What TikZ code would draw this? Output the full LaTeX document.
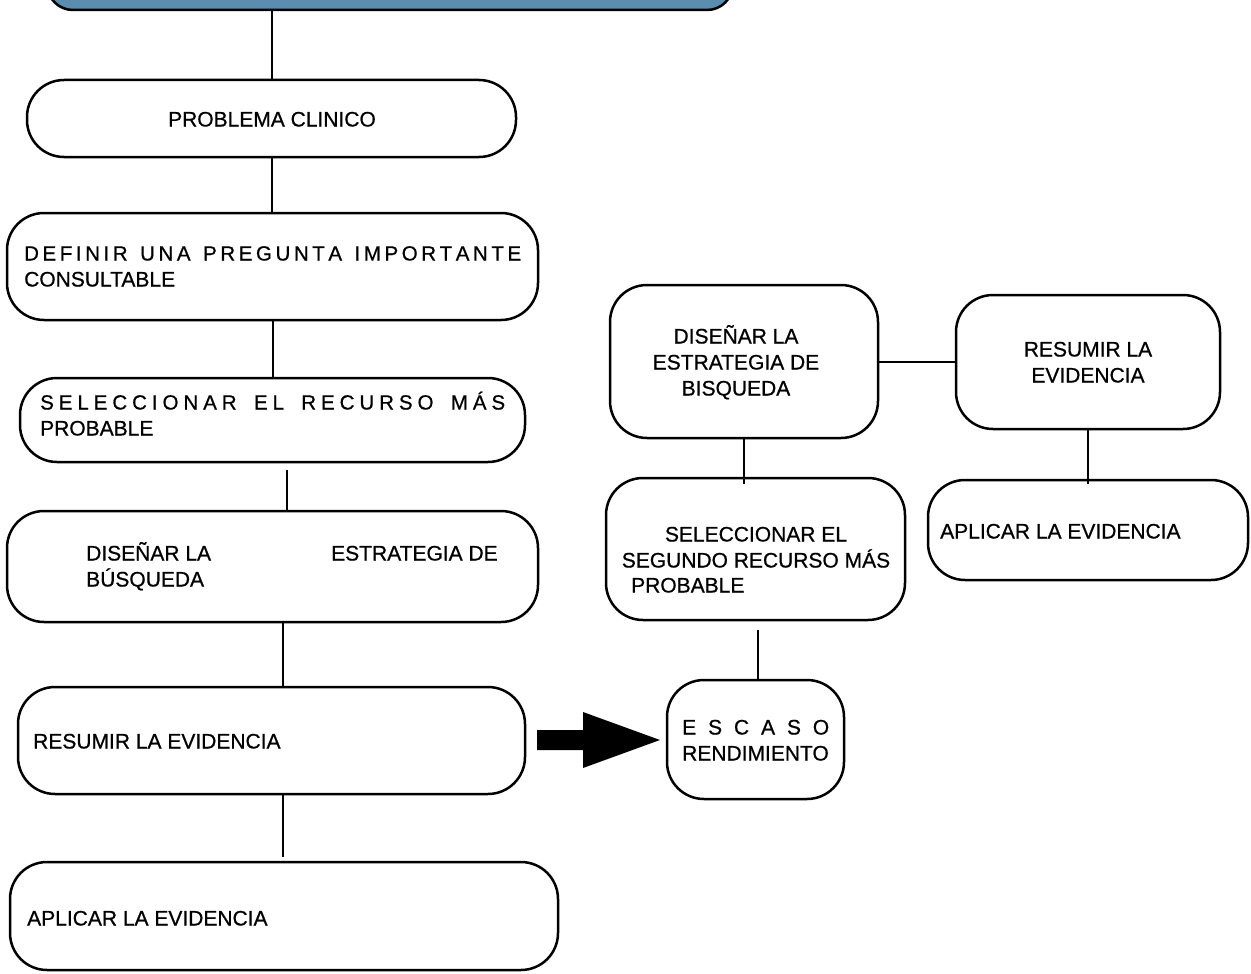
\documentclass[tikz,border=0pt]{standalone}
\usepackage{fontspec}
\setmainfont{Liberation Sans}
\newfontfamily\medfont{Liberation Sans}[FakeBold=0.7]
\definecolor{topblue}{RGB}{90,141,176}
\makeatletter
\def\ls@end{\ls@end}
\def\ls@loop#1{\ifx#1\ls@end\else\ifx#1|\hskip 0pt plus 2.5fil\relax\else#1\hskip 0pt plus 1fil\relax\fi\expandafter\ls@loop\fi}
\newcommand\spreadline[2]{\makebox[#1][s]{\ls@loop#2\ls@end\unskip}}
\makeatother
\newcommand\fs{\medfont\fontsize{21}{26}\selectfont}
\newcommand\fsl{\fontsize{20.5}{26}\selectfont}
\tikzset{
  box/.style={draw, line width=2.5pt, rounded corners=37pt, inner sep=0pt},
  lbl/.style={inner sep=0pt, font=\fs},
  conn/.style={line width=2pt}
}
\begin{document}
\begin{tikzpicture}[x=1pt,y=-1pt]
\clip (0,0) rectangle (1251,974);
\fill[white] (0,0) rectangle (1251,974);
% boxes
\node[box, fill=topblue, rounded corners=26pt, minimum width=686pt, minimum height=70pt] (top) at (390,-25) {};
\node[box, minimum width=489pt, minimum height=77pt] (b1) at (271.5,118.5) {};
\node[box, minimum width=531pt, minimum height=107pt] (b2) at (272.5,266.5) {};
\node[box, minimum width=505pt, minimum height=84pt] (b3) at (272.5,420) {};
\node[box, minimum width=531pt, minimum height=111pt] (b4) at (272.5,566.5) {};
\node[box, minimum width=507pt, minimum height=107pt] (b5) at (271.5,740.5) {};
\node[box, minimum width=548pt, minimum height=108pt] (b6) at (284,916) {};
\node[box, minimum width=268pt, minimum height=153pt] (r1) at (744,361.5) {};
\node[box, minimum width=264pt, minimum height=134pt] (r2) at (1088,362) {};
\node[box, minimum width=299pt, minimum height=142pt] (r3) at (755.5,549) {};
\node[box, minimum width=320pt, minimum height=100pt] (r4) at (1088,530) {};
\node[box, minimum width=177pt, minimum height=119pt] (r5) at (755.5,739.5) {};
% texts (multi-line nodes: base = last line)
\node[lbl, anchor=base] (t1) at (272,126.5) {PROBLEMA CLINICO};
\node[lbl, anchor=base west, align=left] (t2) at (24,286.5) {{\fsl\spreadline{497pt}{DEFINIR|UNA|PREGUNTA|IMPORTANTE}}\\CONSULTABLE};
\node[lbl, anchor=base west, align=left] (t3) at (40,435.5) {{\fsl\spreadline{465pt}{SELECCIONAR|EL|RECURSO|MÁS}}\\PROBABLE};
\node[lbl, anchor=base west, align=left] (t4a) at (86,586.5) {DISEÑAR LA\\BÚSQUEDA};
\node[lbl, anchor=base west] (t4b) at (331,560.5) {ESTRATEGIA DE};
\node[lbl, anchor=base west] (t5) at (33,748.5) {RESUMIR LA EVIDENCIA};
\node[lbl, anchor=base west] (t6) at (27,925.5) {APLICAR LA EVIDENCIA};
\node[lbl, anchor=base, align=center] (tr1) at (736,395.5) {DISEÑAR LA\\ESTRATEGIA DE\\BISQUEDA};
\node[lbl, anchor=base, align=center] (tr2) at (1088,382.5) {RESUMIR LA\\EVIDENCIA};
\node[lbl, anchor=base, align=center] (tr3) at (756,567.5) {SELECCIONAR EL\\SEGUNDO RECURSO MÁS};
\node[lbl, anchor=base west] (tr3b) at (631,592.5) {PROBABLE};
\node[lbl, anchor=base west] (tr4) at (940,538.5) {APLICAR LA EVIDENCIA};
\node[lbl, anchor=base west, align=left] (tr5) at (682,760.5) {\spreadline{147pt}{ESCASO}\\RENDIMIENTO};
% connectors
\draw[conn] (b1.north) -- (b1.north |- top.south);
\draw[conn] (b1.south) -- (b1.south |- b2.north);
\draw[conn] (b2.south) -- (b2.south |- b3.north);
\draw[conn] ([xshift=14pt,yshift=-7pt]b3.south) -- ([xshift=14pt]b4.north);
\draw[conn] ([xshift=10.5pt]b4.south) -- ([xshift=11.5pt]b5.north);
\draw[conn] ([xshift=11.5pt]b5.south) -- ([xshift=-1pt,yshift=4pt]b6.north);
\draw[conn] (r1.east) -- (r1.east -| r2.west);
\draw[conn] (r1.south) -- ([yshift=-7pt]r1.south |- r3.north);
\draw[conn] (r2.south) -- ([yshift=-5pt]r2.south |- r4.north);
\draw[conn] ([xshift=2.5pt,yshift=-9pt]r3.south) -- ([xshift=2.5pt]r5.north);
% block arrow
\fill (537,730) -- (583,730) -- (583,712) -- (660,740) -- (583,768) -- (583,750) -- (537,750) -- cycle;
\end{tikzpicture}
\end{document}
